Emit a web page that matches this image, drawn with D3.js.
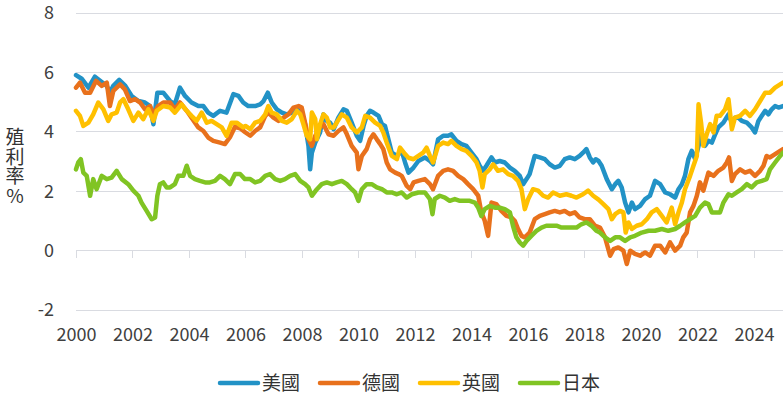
<!DOCTYPE html>
<html>
<head>
<meta charset="utf-8">
<script src="https://cdn.jsdelivr.net/npm/d3@7"></script>
<style>
  body { margin: 0; background: #fff; }
  svg { display: block; font-family: "Noto Sans CJK TC", "Noto Sans", sans-serif; }
  .grid line { stroke: #d9dbe1; stroke-width: 1; }
  .axis text { fill: #404040; font-size: 18px; font-family: "Noto Sans CJK TC", "Noto Sans", sans-serif; }
  .series { fill: none; stroke-width: 4.5; stroke-linejoin: round; stroke-linecap: round; }
</style>
</head>
<body>
<script>
// series names (legend order = draw order)
var seriesNames = ['美國', '德國', '英國', '日本'];
var seriesColors = ['#2292c6', '#e8711c', '#ffc000', '#80c423'];

var yTickValues = [-2, 0, 2, 4, 6, 8];
var xTickValues = [2000, 2002, 2004, 2006, 2008, 2010, 2012, 2014, 2016, 2018, 2020, 2022, 2024];
var yTitleChars = ['殖', '利', '率', '%'];

// [year, yield %]
var usYield = [
  [2000.00,5.89],[2000.20,5.77],[2000.44,5.47],[2000.67,5.84],[2000.91,5.66],[2001.09,5.53],[2001.20,5.30],
  [2001.32,5.53],[2001.53,5.73],[2001.73,5.55],[2001.97,5.19],[2002.21,5.02],[2002.44,4.97],[2002.62,4.85],
  [2002.74,4.24],[2002.88,5.30],[2003.09,5.30],[2003.33,5.02],[2003.50,4.91],[2003.68,5.47],[2003.86,5.19],
  [2004.09,4.97],[2004.33,4.85],[2004.51,4.85],[2004.68,4.63],[2004.86,4.52],[2005.10,4.69],[2005.33,4.63],
  [2005.57,5.25],[2005.75,5.19],[2005.92,4.97],[2006.10,4.85],[2006.34,4.85],[2006.52,4.91],[2006.64,5.02],
  [2006.79,5.30],[2006.93,4.97],[2007.11,4.74],[2007.29,4.63],[2007.46,4.57],[2007.64,4.63],[2007.82,4.74],
  [2007.99,4.63],[2008.11,4.24],[2008.23,3.51],[2008.29,2.72],[2008.35,3.28],[2008.47,3.62],[2008.64,3.96],
  [2008.76,4.57],[2008.88,4.35],[2009.00,4.29],[2009.12,4.07],[2009.29,4.46],[2009.47,4.74],[2009.59,4.69],
  [2009.76,4.29],[2009.94,3.85],[2010.06,3.68],[2010.18,4.18],[2010.29,4.52],[2010.41,4.69],[2010.53,4.63],
  [2010.71,4.52],[2010.83,4.24],[2010.94,4.18],[2011.06,3.73],[2011.18,3.28],[2011.36,3.17],[2011.53,3.34],
  [2011.65,2.95],[2011.77,2.61],[2011.95,2.78],[2012.12,3.00],[2012.35,3.12],[2012.53,3.00],[2012.64,2.89],
  [2012.82,3.73],[2013.00,3.85],[2013.17,3.85],[2013.29,3.90],[2013.47,3.68],[2013.65,3.57],[2013.82,3.51],
  [2014.00,3.28],[2014.18,3.06],[2014.29,2.84],[2014.41,2.67],[2014.53,2.84],[2014.71,3.12],[2014.83,2.95],
  [2015.00,3.00],[2015.18,2.95],[2015.36,2.78],[2015.53,2.67],[2015.71,2.50],[2015.83,2.22],[2015.95,2.39],
  [2016.06,2.56],[2016.24,3.17],[2016.42,3.12],[2016.60,3.06],[2016.77,2.89],[2016.95,2.78],[2017.13,2.84],
  [2017.30,3.06],[2017.48,3.12],[2017.66,3.06],[2017.83,3.17],[2017.95,3.28],[2018.07,3.40],[2018.19,3.12],
  [2018.31,2.95],[2018.40,3.06],[2018.50,3.00],[2018.61,2.84],[2018.79,2.39],[2018.97,2.05],[2019.09,2.22],
  [2019.20,2.33],[2019.32,2.11],[2019.44,1.60],[2019.56,1.27],[2019.68,1.60],[2019.79,1.38],[2019.97,1.49],
  [2020.15,1.72],[2020.32,1.83],[2020.50,2.33],[2020.68,2.22],[2020.86,1.94],[2021.03,1.88],[2021.21,1.77],
  [2021.33,2.05],[2021.45,2.22],[2021.56,2.50],[2021.68,3.06],[2021.80,3.34],[2021.92,3.06],[2022.04,3.51],
  [2022.15,3.96],[2022.27,3.51],[2022.39,3.68],[2022.51,3.62],[2022.63,3.90],[2022.74,4.13],[2022.92,4.29],
  [2023.10,4.57],[2023.22,4.29],[2023.33,4.46],[2023.45,4.46],[2023.57,4.35],[2023.75,4.29],[2023.92,4.13],
  [2024.04,3.96],[2024.16,4.35],[2024.28,4.52],[2024.40,4.69],[2024.51,4.57],[2024.63,4.74],[2024.75,4.85],
  [2024.87,4.80],[2025.03,4.85]
];

var deYield = [
  [2000.00,5.47],[2000.14,5.64],[2000.32,5.30],[2000.50,5.30],[2000.71,5.70],[2000.91,5.53],[2001.09,5.64],
  [2001.20,4.85],[2001.32,5.36],[2001.56,5.58],[2001.73,5.41],[2001.91,5.02],[2002.09,5.08],[2002.27,4.97],
  [2002.44,4.74],[2002.62,4.85],[2002.74,4.57],[2002.91,4.85],[2003.09,4.97],[2003.33,4.97],[2003.50,4.74],
  [2003.68,4.97],[2003.92,4.69],[2004.09,4.46],[2004.33,4.13],[2004.51,4.01],[2004.68,3.79],[2004.86,3.68],
  [2005.10,3.62],[2005.27,3.57],[2005.45,3.80],[2005.63,4.15],[2005.81,4.10],[2006.00,3.96],[2006.17,3.85],
  [2006.34,4.01],[2006.52,4.13],[2006.70,4.52],[2006.81,4.63],[2006.99,4.46],[2007.17,4.35],[2007.35,4.46],
  [2007.52,4.57],[2007.70,4.80],[2007.88,4.85],[2007.99,4.80],[2008.11,4.29],[2008.23,3.73],[2008.35,3.51],
  [2008.47,3.85],[2008.64,4.13],[2008.76,4.24],[2008.94,3.90],[2009.12,3.85],[2009.29,4.01],[2009.47,4.13],
  [2009.59,3.90],[2009.76,3.51],[2009.94,3.28],[2010.00,2.72],[2010.12,3.17],[2010.29,3.40],[2010.41,3.73],
  [2010.53,3.90],[2010.65,3.73],[2010.77,3.57],[2010.88,3.40],[2011.00,2.95],[2011.12,2.72],[2011.30,2.61],
  [2011.42,2.56],[2011.53,2.50],[2011.71,2.16],[2011.83,2.05],[2011.95,2.28],[2012.12,2.33],[2012.35,2.39],
  [2012.53,2.22],[2012.64,2.05],[2012.82,2.50],[2013.00,2.67],[2013.17,2.72],[2013.35,2.67],[2013.53,2.50],
  [2013.71,2.39],[2013.88,2.22],[2014.06,2.05],[2014.24,1.83],[2014.35,1.27],[2014.47,0.99],[2014.59,0.48],
  [2014.71,1.60],[2014.88,1.55],[2015.06,1.32],[2015.24,1.15],[2015.42,1.10],[2015.53,0.99],[2015.65,0.71],
  [2015.77,0.48],[2015.89,0.43],[2016.06,0.59],[2016.24,1.04],[2016.42,1.15],[2016.60,1.21],[2016.77,1.27],
  [2016.95,1.32],[2017.13,1.27],[2017.30,1.32],[2017.48,1.21],[2017.66,1.27],[2017.83,1.10],[2018.01,1.04],
  [2018.19,1.04],[2018.37,0.82],[2018.55,0.76],[2018.73,0.43],[2018.91,-0.19],[2019.03,0.03],[2019.20,0.09],
  [2019.38,-0.02],[2019.50,-0.47],[2019.62,-0.02],[2019.79,-0.13],[2019.97,-0.19],[2020.15,-0.08],[2020.32,-0.19],
  [2020.50,0.15],[2020.68,0.15],[2020.86,-0.08],[2021.03,0.26],[2021.21,-0.02],[2021.39,0.15],[2021.50,0.43],
  [2021.62,0.59],[2021.74,1.27],[2021.86,1.49],[2021.98,1.83],[2022.09,2.28],[2022.21,2.00],[2022.39,2.61],
  [2022.57,2.50],[2022.74,2.67],[2022.92,2.78],[2023.04,2.95],[2023.12,3.12],[2023.22,2.33],[2023.33,2.56],
  [2023.51,2.72],[2023.69,2.61],[2023.86,2.67],[2024.04,2.50],[2024.22,2.67],[2024.34,2.84],[2024.45,3.17],
  [2024.57,3.12],[2024.75,3.23],[2024.93,3.34],[2025.03,3.40]
];

var ukYield = [
  [2000.00,4.69],[2000.14,4.52],[2000.26,4.18],[2000.44,4.29],[2000.61,4.57],[2000.79,4.97],[2000.97,4.74],
  [2001.14,4.35],[2001.26,4.57],[2001.44,4.63],[2001.56,4.97],[2001.68,5.08],[2001.85,4.74],[2002.03,4.35],
  [2002.21,4.63],[2002.38,4.41],[2002.56,4.74],[2002.74,4.35],[2002.86,4.69],[2003.09,4.85],[2003.33,4.80],
  [2003.50,4.63],[2003.74,4.91],[2003.92,4.69],[2004.09,4.52],[2004.27,4.35],[2004.45,4.63],[2004.63,4.29],
  [2004.80,4.35],[2004.98,4.24],[2005.16,4.13],[2005.33,3.85],[2005.51,4.29],[2005.69,4.29],[2005.92,4.13],
  [2006.00,4.18],[2006.17,4.07],[2006.34,4.29],[2006.52,4.35],[2006.70,4.57],[2006.81,4.85],[2006.93,4.63],
  [2007.11,4.57],[2007.29,4.35],[2007.46,4.29],[2007.64,4.41],[2007.82,4.69],[2007.94,4.57],[2008.05,4.24],
  [2008.17,3.85],[2008.29,3.73],[2008.35,4.63],[2008.47,4.41],[2008.53,3.73],[2008.64,4.24],[2008.76,4.57],
  [2008.88,4.46],[2009.00,4.13],[2009.12,4.13],[2009.23,4.29],[2009.41,4.57],[2009.59,4.46],[2009.76,4.13],
  [2009.94,3.96],[2010.12,4.13],[2010.24,4.52],[2010.41,4.46],[2010.59,4.29],[2010.77,4.18],[2010.88,3.96],
  [2011.00,3.62],[2011.18,3.17],[2011.36,3.06],[2011.47,3.45],[2011.65,3.23],[2011.77,3.11],[2011.95,3.06],
  [2012.12,3.17],[2012.29,3.28],[2012.41,3.45],[2012.53,3.17],[2012.64,2.95],[2012.82,3.51],[2013.00,3.62],
  [2013.17,3.57],[2013.29,3.68],[2013.47,3.51],[2013.65,3.40],[2013.82,3.34],[2014.00,3.17],[2014.18,2.95],
  [2014.29,2.67],[2014.39,2.11],[2014.47,2.56],[2014.65,2.72],[2014.77,2.89],[2014.94,2.67],[2015.12,2.72],
  [2015.30,2.56],[2015.47,2.50],[2015.65,2.33],[2015.77,2.05],[2015.89,1.38],[2016.01,1.72],[2016.18,2.05],
  [2016.36,2.00],[2016.54,1.83],[2016.71,1.77],[2016.89,1.94],[2017.13,1.83],[2017.36,1.88],[2017.54,1.83],
  [2017.72,1.77],[2017.95,1.88],[2018.13,2.00],[2018.31,1.83],[2018.50,1.70],[2018.67,1.55],[2018.85,1.38],
  [2018.97,1.04],[2019.09,1.21],[2019.26,1.32],[2019.38,1.27],[2019.46,0.59],[2019.56,0.93],[2019.68,0.71],
  [2019.85,0.82],[2020.03,0.87],[2020.21,1.04],[2020.38,1.27],[2020.56,1.38],[2020.74,1.15],[2020.91,0.93],
  [2021.09,1.43],[2021.21,0.87],[2021.33,1.27],[2021.45,1.60],[2021.56,2.05],[2021.74,2.50],[2021.86,2.84],
  [2021.98,3.17],[2022.04,4.91],[2022.13,4.29],[2022.21,3.51],[2022.33,3.90],[2022.45,4.24],[2022.57,3.96],
  [2022.68,4.52],[2022.80,4.52],[2022.98,4.74],[2023.10,5.08],[2023.22,4.07],[2023.33,4.46],[2023.51,4.52],
  [2023.69,4.69],[2023.86,4.52],[2024.04,4.74],[2024.22,5.02],[2024.40,5.30],[2024.57,5.30],[2024.75,5.47],
  [2024.93,5.58],[2025.03,5.64]
];

var jpYield = [
  [2000.00,2.72],[2000.08,2.95],[2000.17,3.06],[2000.26,2.61],[2000.38,2.50],[2000.50,1.83],[2000.61,2.39],
  [2000.73,2.05],[2000.91,2.50],[2001.09,2.39],[2001.26,2.44],[2001.44,2.67],[2001.62,2.39],[2001.85,2.22],
  [2002.03,2.00],[2002.21,1.83],[2002.32,1.60],[2002.50,1.32],[2002.68,1.04],[2002.80,1.10],[2002.88,1.83],
  [2002.97,2.22],[2003.09,2.28],[2003.21,2.11],[2003.33,2.11],[2003.50,2.22],[2003.62,2.50],[2003.80,2.50],
  [2003.92,2.84],[2004.04,2.50],[2004.21,2.39],[2004.39,2.33],[2004.57,2.28],[2004.74,2.28],[2004.92,2.33],
  [2005.10,2.50],[2005.27,2.39],[2005.45,2.22],[2005.63,2.56],[2005.81,2.56],[2005.98,2.39],[2006.17,2.39],
  [2006.34,2.28],[2006.52,2.33],[2006.70,2.50],[2006.87,2.56],[2007.05,2.39],[2007.23,2.33],[2007.40,2.39],
  [2007.58,2.50],[2007.76,2.56],[2007.94,2.33],[2008.11,2.22],[2008.23,2.11],[2008.35,1.83],[2008.53,2.05],
  [2008.70,2.22],[2008.88,2.28],[2009.06,2.22],[2009.23,2.28],[2009.41,2.33],[2009.59,2.22],[2009.76,2.05],
  [2009.88,1.94],[2010.00,1.66],[2010.12,2.05],[2010.29,2.22],[2010.47,2.22],[2010.65,2.11],[2010.83,2.05],
  [2011.00,1.94],[2011.18,1.94],[2011.36,1.88],[2011.53,1.94],[2011.71,1.77],[2011.89,1.88],[2012.12,1.94],
  [2012.35,1.94],[2012.53,1.72],[2012.62,1.21],[2012.70,1.72],[2012.88,1.83],[2013.06,1.77],[2013.23,1.66],
  [2013.41,1.72],[2013.59,1.66],[2013.76,1.66],[2013.94,1.66],[2014.12,1.60],[2014.24,1.43],[2014.35,1.15],
  [2014.47,1.38],[2014.65,1.49],[2014.83,1.43],[2015.00,1.43],[2015.18,1.38],[2015.36,1.27],[2015.47,0.82],
  [2015.59,0.43],[2015.71,0.26],[2015.83,0.15],[2015.95,0.31],[2016.12,0.48],[2016.30,0.65],[2016.48,0.76],
  [2016.65,0.82],[2016.83,0.82],[2017.01,0.82],[2017.19,0.76],[2017.36,0.76],[2017.54,0.76],[2017.72,0.76],
  [2017.89,0.87],[2018.07,0.93],[2018.25,0.82],[2018.42,0.65],[2018.55,0.59],[2018.73,0.43],[2018.91,0.31],
  [2019.09,0.43],[2019.26,0.43],[2019.44,0.31],[2019.62,0.43],[2019.79,0.48],[2020.03,0.59],[2020.27,0.65],
  [2020.50,0.65],[2020.74,0.71],[2020.97,0.65],[2021.21,0.71],[2021.39,0.82],[2021.56,0.93],[2021.74,1.04],
  [2021.92,1.15],[2022.09,1.43],[2022.27,1.60],[2022.39,1.55],[2022.51,1.27],[2022.63,1.27],[2022.80,1.27],
  [2022.92,1.60],[2023.10,1.88],[2023.22,1.83],[2023.39,1.94],[2023.57,2.05],[2023.75,2.22],[2023.92,2.11],
  [2024.10,2.28],[2024.28,2.33],[2024.45,2.39],[2024.57,2.72],[2024.75,2.95],[2024.93,3.17],[2025.03,3.28]
];

var allSeries = [usYield, deYield, ukYield, jpYield];

var width = 783, height = 394;
var plotLeft = 76, plotRight = 783, plotTop = 12.5, plotBottom = 309.5;

var svg = d3.select('body').append('svg')
    .attr('width', width)
    .attr('height', height);

var x = d3.scaleLinear()
    .domain([2000, 2025.03])
    .range([plotLeft, plotRight]);

var y = d3.scaleLinear()
    .domain([-2, 8])
    .range([plotBottom, plotTop]);

// horizontal grid lines
svg.append('g')
    .attr('class', 'grid')
    .selectAll('line')
    .data(yTickValues)
    .enter().append('line')
    .attr('x1', plotLeft)
    .attr('x2', plotRight)
    .attr('y1', d => Math.round(y(d)) + 0.5)
    .attr('y2', d => Math.round(y(d)) + 0.5);

// small year ticks hanging from the zero line
svg.append('g')
    .attr('class', 'grid')
    .selectAll('line')
    .data(xTickValues)
    .enter().append('line')
    .attr('x1', d => Math.round(x(d)) + 0.5)
    .attr('x2', d => Math.round(x(d)) + 0.5)
    .attr('y1', Math.round(y(0)))
    .attr('y2', Math.round(y(0)) + 8);

// y axis labels (plain hyphen for the minus sign, as in the original)
var yAxis = svg.append('g')
    .attr('class', 'axis')
    .attr('transform', 'translate(' + (plotLeft - 13) + ',0)')
    .call(d3.axisLeft(y).tickValues(yTickValues).tickFormat(d => String(d)).tickSize(0).tickPadding(9));
yAxis.select('.domain').remove();
yAxis.selectAll('text').attr('dy', '0.36em');

// x axis labels (sit below the plot)
var xAxis = svg.append('g')
    .attr('class', 'axis')
    .attr('transform', 'translate(0,' + 327 + ')')
    .call(d3.axisBottom(x).tickValues(xTickValues).tickFormat(d3.format('d')).tickSize(0).tickPadding(0));
xAxis.select('.domain').remove();
xAxis.selectAll('text').attr('dy', '0.78em');

// y title, one character per line
svg.append('g')
    .selectAll('text')
    .data(yTitleChars)
    .enter().append('text')
    .attr('x', 15)
    .attr('y', (d, i) => 144 + i * 19.6)
    .attr('text-anchor', 'middle')
    .style('font-size', '19px')
    .style('fill', '#333')
    .text(d => d);

var line = d3.line()
    .x(d => x(d[0]))
    .y(d => y(d[1]));

svg.append('g')
    .selectAll('path')
    .data(allSeries)
    .enter().append('path')
    .attr('class', 'series')
    .attr('stroke', (d, i) => seriesColors[i])
    .attr('d', line);

// legend
var legend = svg.append('g')
    .attr('transform', 'translate(218,383)');
var item = legend.selectAll('g')
    .data(seriesNames)
    .enter().append('g')
    .attr('transform', (d, i) => 'translate(' + (i * 100) + ',0)');
item.append('line')
    .attr('x1', 2).attr('x2', 40)
    .attr('stroke', (d, i) => seriesColors[i])
    .attr('stroke-width', 4.5)
    .attr('stroke-linecap', 'round');
item.append('text')
    .attr('x', 44)
    .attr('dy', '0.36em')
    .style('font-size', '19px')
    .style('fill', '#333')
    .text(d => d);
</script>
</body>
</html>
